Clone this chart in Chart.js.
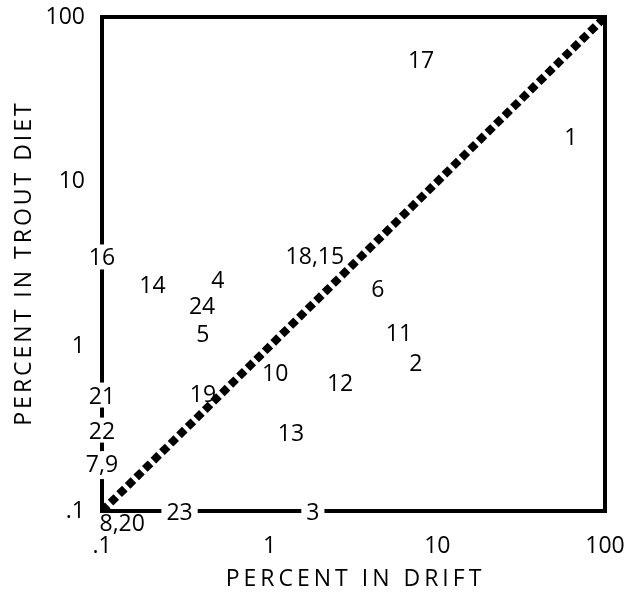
<!DOCTYPE html>
<html lang="en">
<head>
    <meta charset="UTF-8">
    <script src="https://cdn.jsdelivr.net/npm/chart.js@4.4.1/dist/chart.umd.min.js"></script>
    <title>Percent in drift vs trout diet</title>
    <style>
        body { margin: 0; background: #fff; }
    </style>
</head>
<body>

    <canvas id="chart" width="632" height="592"></canvas>

    <script>
    // taxon numbers (some share a position), percent in drift, percent in trout diet
    const taxa  = ['17', '1', '16', '14', '4', '24', '5', '18,15', '6', '11', '2', '12', '10', '19', '13', '21', '22', '7,9', '8,20', '23', '3'];
    const drift = [8.0, 62.6, 0.1, 0.20, 0.49, 0.395, 0.40, 1.86, 4.42, 5.9, 7.45, 2.63, 1.08, 0.40, 1.34, 0.1, 0.1, 0.1, 0.132, 0.29, 1.81];
    const diet  = [55.5, 18.9, 3.49, 2.36, 2.53, 1.78, 1.19, 3.49, 2.26, 1.22, 0.80, 0.607, 0.698, 0.52, 0.298, 0.506, 0.31, 0.19, 0.083, 0.1, 0.1];

    const tickValues = [0.1, 1, 10, 100];
    const tickLabels = ['.1', '1', '10', '100'];

    const xTitle = 'PERCENT IN DRIFT';
    const yTitle = 'PERCENT IN TROUT DIET';

    const points = taxa.map((t, i) => ({x: drift[i], y: diet[i], label: t}));

    const labelFont = '400 23px "Open Sans"';

    function labelBoxes(chart) {
        const ds = chart.getDatasetMeta(1);
        const ctx = chart.ctx;
        ctx.font = labelFont;
        return ds.data.map((el, i) => {
            const m = ctx.measureText(taxa[i]);
            return {x: el.x, y: el.y, text: taxa[i], w: m.width, a: m.actualBoundingBoxAscent, d: m.actualBoundingBoxDescent};
        });
    }

    const frameAndLabels = {
        id: 'frameAndLabels',
        beforeDatasetsDraw(chart) {
            const {ctx, chartArea: a} = chart;
            ctx.save();
            // top and right sides of the box
            ctx.strokeStyle = '#000';
            ctx.lineWidth = 4;
            ctx.lineJoin = 'miter';
            ctx.beginPath();
            ctx.moveTo(a.left - 2, a.top);
            ctx.lineTo(a.right, a.top);
            ctx.lineTo(a.right, a.bottom + 2);
            ctx.stroke();
            // white knock-outs so labels sitting on an axis break the line
            ctx.fillStyle = '#fff';
            labelBoxes(chart).forEach(b => {
                if (b.y > a.bottom + 1 || b.x < a.left - 3) return;
                const h = b.a + b.d;
                ctx.fillRect(b.x - b.w / 2 - 5, b.y - h / 2 - 4, b.w + 10, h + 8);
            });
            ctx.restore();
        },
        afterDatasetsDraw(chart) {
            const ctx = chart.ctx;
            ctx.save();
            ctx.fillStyle = '#000';
            ctx.textAlign = 'center';
            ctx.textBaseline = 'alphabetic';
            labelBoxes(chart).forEach(b => {
                const h = b.a + b.d;
                ctx.fillText(b.text, b.x, b.y + h / 2 - b.d);
            });
            ctx.restore();
        },
        afterDraw(chart) {
            const {ctx, chartArea: a} = chart;
            ctx.save();
            ctx.fillStyle = '#000';
            ctx.font = '400 23px "Open Sans"';
            ctx.textAlign = 'center';
            ctx.textBaseline = 'middle';
            ctx.letterSpacing = '4px';
            ctx.fillText(xTitle, (a.left + a.right) / 2 + 2, chart.height - 13);
            ctx.letterSpacing = '3px';
            ctx.translate(24, (a.top + a.bottom) / 2);
            ctx.rotate(-Math.PI / 2);
            ctx.fillText(yTitle, 1, 0);
            ctx.restore();
        }
    };

    function logAxis(extra) {
        return Object.assign({
            type: 'logarithmic',
            min: 0.1,
            max: 100,
            grid: {display: false},
            border: {display: true, width: 4, color: '#000'},
            afterBuildTicks: scale => { scale.ticks = tickValues.map(v => ({value: v})); },
            ticks: {
                autoSkip: false,
                maxRotation: 0,
                color: '#000',
                font: {family: 'Open Sans', size: 23},
                callback: v => tickLabels[tickValues.indexOf(v)]
            }
        }, extra);
    }

    const xAxis = logAxis({afterFit: s => { s.height = 81; s.paddingLeft = 0; s.paddingRight = 0; }});
    xAxis.ticks.padding = 14;
    const yAxis = logAxis({afterFit: s => { s.width = 102; s.paddingTop = 0; s.paddingBottom = 0; }});
    yAxis.ticks.padding = 9;

    const ctx = document.getElementById('chart').getContext('2d');
    const myChart = new Chart(ctx, {
        data: {
            datasets: [
                {
                    type: 'line',
                    data: [{x: 0.1, y: 0.1}, {x: 100, y: 100}],
                    borderColor: '#000',
                    borderWidth: 8,
                    borderDash: [8, 4],
                    pointRadius: 0,
                    fill: false
                },
                {
                    type: 'scatter',
                    data: points,
                    pointRadius: 0,
                    clip: false
                }
            ]
        },
        options: {
            responsive: false,
            animation: false,
            layout: {padding: {top: 17, right: 27, left: 0, bottom: 0}},
            plugins: {legend: {display: false}, tooltip: {enabled: false}},
            scales: {x: xAxis, y: yAxis}
        },
        plugins: [frameAndLabels]
    });
    </script>
</body>
</html>
